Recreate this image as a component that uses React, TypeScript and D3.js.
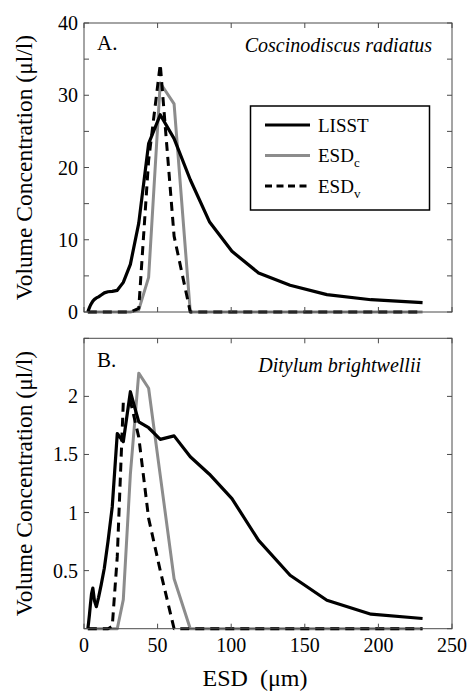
import React from "react";
import * as d3 from "d3";

// LISST size bins (µm), shared by every series
const esdBins = [2.6, 3.1, 3.7, 4.3, 5.1, 6.0, 7.1, 8.4, 9.9, 11.7, 13.8, 16.3, 19.2, 22.6, 26.7, 31.5, 37.2, 43.9, 51.8, 61.2, 72.2, 85.2, 100.5, 118.6, 140, 165, 195, 230];

// A. Coscinodiscus radiatus
const coscLisst = [0, 0.3, 0.6, 0.9, 1.2, 1.5, 1.75, 1.95, 2.1, 2.35, 2.65, 2.8, 2.85, 3.0, 4.1, 6.6, 12.3, 23.3, 27.3, 24.0, 18.3, 12.5, 8.4, 5.4, 3.7, 2.4, 1.7, 1.3];
const coscEsdC = [0, 0, 0, 0, 0, 0, 0, 0, 0, 0, 0, 0, 0, 0, 0, 0, 0.3, 4.8, 31.7, 28.8, 0, 0, 0, 0, 0, 0, 0, 0];
const coscEsdV = [0, 0, 0, 0, 0, 0, 0, 0, 0, 0, 0, 0, 0, 0, 0, 0, 0.5, 21, 34.3, 10.5, 0, 0, 0, 0, 0, 0, 0, 0];

// B. Ditylum brightwellii
const dityLisst = [0, 0.05, 0.12, 0.2, 0.3, 0.35, 0.24, 0.19, 0.27, 0.38, 0.52, 0.75, 1.05, 1.68, 1.61, 2.04, 1.78, 1.73, 1.63, 1.66, 1.48, 1.33, 1.12, 0.76, 0.46, 0.245, 0.125, 0.088];
const dityEsdC = [0, 0, 0, 0, 0, 0, 0, 0, 0, 0, 0, 0, 0, 0, 0.25, 1.33, 2.2, 2.07, 1.32, 0.43, 0, 0, 0, 0, 0, 0, 0, 0];
const dityEsdV = [0, 0, 0, 0, 0, 0, 0, 0, 0, 0, 0, 0, 0.02, 0.62, 1.95, 1.96, 1.65, 0.95, 0.5, 0, 0, 0, 0, 0, 0, 0, 0, 0];

const xTicks = [0, 50, 100, 150, 200, 250];
const coscYTicks = [0, 5, 10, 15, 20, 25, 30, 35, 40];
const coscYLabels = [0, 10, 20, 30, 40];
const dityYTicks = [0, 0.5, 1, 1.5, 2, 2.5];
const dityYLabels = [0.5, 1, 1.5, 2];

const legendNames = ["LISST", "ESD", "ESD"];
const legendSubs = ["", "c", "v"];

const FONT = "'Liberation Serif', 'Times New Roman', serif";
const styles = [
  { stroke: "#000", width: 3.2, dash: null },
  { stroke: "#8c8c8c", width: 3, dash: null },
  { stroke: "#000", width: 3, dash: "9 6" },
];

const W = 469;
const H = 693;
const left = 84;
const right = 452;

const x = d3.scaleLinear().domain([0, 250]).range([left, right]);

function Panel({ top, bottom, yMax, yTicks, yLabels, lisst, esdC, esdV, letter, letterY, species, speciesX, speciesY, xLabels, legend }) {
  const y = d3.scaleLinear().domain([0, yMax]).range([bottom, top]);
  const line = d3.line<number>().x((_, i) => x(esdBins[i])).y((d) => y(d));
  const fmt = d3.format("~g");
  // drawn grey first, then dashed, black on top
  const order = [
    { data: esdC, s: styles[1] },
    { data: esdV, s: styles[2] },
    { data: lisst, s: styles[0] },
  ];
  return (
    <g>
      {order.map((o, i) => (
        <path key={i} d={line(o.data) || ""} fill="none" stroke={o.s.stroke} strokeWidth={o.s.width}
          strokeDasharray={o.s.dash || undefined} strokeLinejoin="round" />
      ))}
      <rect x={left} y={top} width={right - left} height={bottom - top} fill="none" stroke="#4a4a4a" strokeWidth={1} />
      {xTicks.map((t) => (
        <g key={"x" + t}>
          <line x1={x(t)} x2={x(t)} y1={bottom} y2={bottom - 5} stroke="#4a4a4a" />
          <line x1={x(t)} x2={x(t)} y1={top} y2={top + 5} stroke="#4a4a4a" />
          {xLabels && (
            <text x={x(t)} y={bottom + 23} textAnchor="middle" fontSize={20} fontFamily={FONT}>{t}</text>
          )}
        </g>
      ))}
      {yTicks.map((t) => (
        <g key={"y" + t}>
          <line x1={left} x2={left + 5} y1={y(t)} y2={y(t)} stroke="#4a4a4a" />
          <line x1={right} x2={right - 5} y1={y(t)} y2={y(t)} stroke="#4a4a4a" />
        </g>
      ))}
      {yLabels.map((t) => (
        <text key={"yl" + t} x={left - 6} y={y(t)} dy="0.35em" textAnchor="end" fontSize={20} fontFamily={FONT}>{fmt(t)}</text>
      ))}
      <text x={97} y={letterY} fontSize={21} fontFamily={FONT}>{letter}</text>
      <text x={speciesX} y={speciesY} textAnchor="end" fontSize={20} fontStyle="italic" fontFamily={FONT}>{species}</text>
      <text transform={`translate(32,${(top + bottom) / 2}) rotate(-90)`} textAnchor="middle" fontSize={23.5} fontFamily={FONT}>
        Volume Concentration (μl/l)
      </text>
      {legend && (
        <g>
          <rect x={250.5} y={106} width={179} height={104} fill="#fff" stroke="#000" strokeWidth={1.5} />
          {styles.map((s, i) => {
            const ly = 125 + i * 30.5;
            return (
              <g key={"lg" + i}>
                <line x1={265} x2={310} y1={ly} y2={ly} stroke={s.stroke} strokeWidth={s.width} strokeDasharray={s.dash ? "7 4.5" : undefined} />
                <text x={318} y={ly + 6.5} fontSize={19} fontFamily={FONT}>
                  {legendNames[i]}
                  {legendSubs[i] && <tspan fontSize={13} dy={5}>{legendSubs[i]}</tspan>}
                </text>
              </g>
            );
          })}
        </g>
      )}
    </g>
  );
}

export default function App() {
  return (
    <svg width={W} height={H} style={{ position: "absolute", left: 0, top: 0, background: "#fff" }}>
      <rect width={W} height={H} fill="#fff" />
      <Panel top={23} bottom={312} yMax={40} yTicks={coscYTicks} yLabels={coscYLabels}
        lisst={coscLisst} esdC={coscEsdC} esdV={coscEsdV}
        letter="A." letterY={50} species="Coscinodiscus radiatus" speciesX={432} speciesY={52}
        xLabels={false} legend={true} />
      <Panel top={338.3} bottom={628.7} yMax={2.5} yTicks={dityYTicks} yLabels={dityYLabels}
        lisst={dityLisst} esdC={dityEsdC} esdV={dityEsdV}
        letter="B." letterY={367} species="Ditylum brightwellii" speciesX={421} speciesY={372}
        xLabels={true} legend={false} />
      <text x={255} y={686} textAnchor="middle" fontSize={24} fontFamily={FONT} style={{ whiteSpace: "pre" }}>
        {"ESD  (μm)"}
      </text>
    </svg>
  );
}
